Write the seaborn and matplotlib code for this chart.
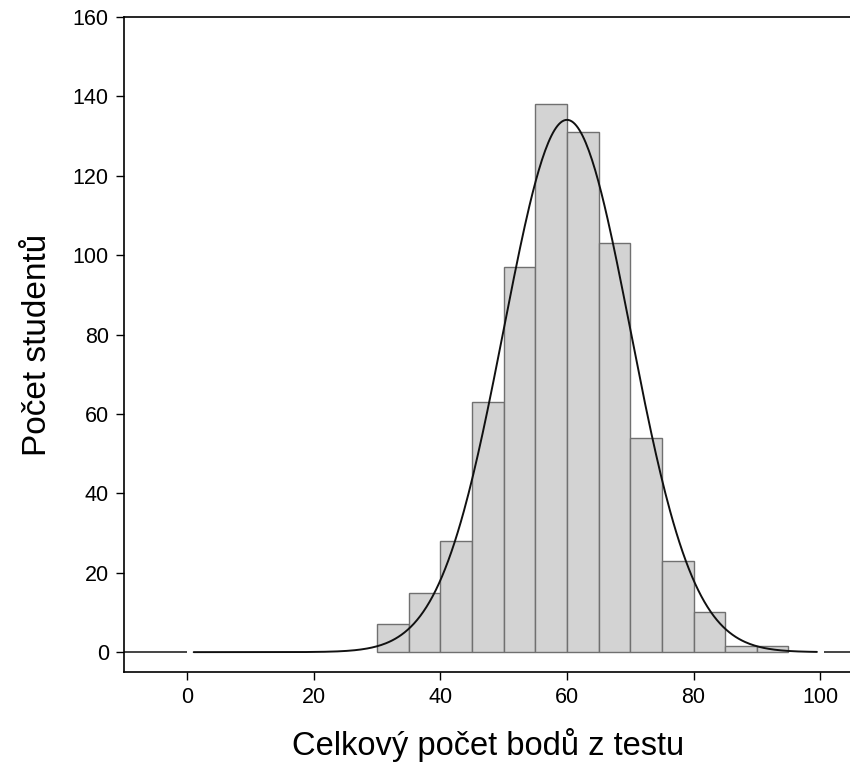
import numpy as np
import pandas as pd
import matplotlib
matplotlib.use("Agg")
import matplotlib.pyplot as plt
import seaborn as sns

# ---- data ----
bin_edges = [30, 35, 40, 45, 50, 55, 60, 65, 70, 75, 80, 85, 90, 95]
counts = [7, 15, 28, 63, 97, 138, 131, 103, 54, 23, 10, 1.6, 1.6]
curve_mean = 60.0
curve_sd = 10.0
x_ticks = [0, 20, 40, 60, 80, 100]
y_ticks = [0, 20, 40, 60, 80, 100, 120, 140, 160]
x_label = "Celkový počet bodů z testu"
y_label = "Počet studentů"

sns.set_theme(style="white")
plt.rcParams["font.family"] = ["Liberation Sans", "DejaVu Sans"]

fig = plt.figure(figsize=(8.5, 7.65), dpi=100)
ax = fig.add_axes([0.146, 0.1216, 0.856, 0.8562])

centers = [(a + b) / 2 for a, b in zip(bin_edges[:-1], bin_edges[1:])]
df = pd.DataFrame({"score": centers, "n": counts})
sns.histplot(data=df, x="score", weights="n", bins=bin_edges, ax=ax,
             color="#d3d3d3", edgecolor="#707070", linewidth=1.0, alpha=1.0)

# fitted normal curve scaled to counts
bw = bin_edges[1] - bin_edges[0]
total = sum(counts)
xs = np.linspace(1, 99.5, 400)
ys = total * bw / (curve_sd * np.sqrt(2 * np.pi)) * np.exp(-0.5 * ((xs - curve_mean) / curve_sd) ** 2)
sns.lineplot(x=xs, y=ys, ax=ax, color="#111111", linewidth=1.4)

xmin, xmax = -10, 105
ax.hlines(0, xmin, 0, color="#444444", linewidth=1.4)
ax.hlines(0, 100.6, xmax, color="#444444", linewidth=1.4)

ax.set_xlim(xmin, xmax)
ax.set_ylim(-5, 160)
ax.set_xticks(x_ticks)
ax.set_yticks(y_ticks)
ax.tick_params(direction="out", length=6, width=1.0, color="black",
               labelsize=15.5, bottom=True, left=True, pad=5, labelcolor="black")
for s in ["left", "bottom", "top"]:
    ax.spines[s].set_visible(True)
    ax.spines[s].set_color("black")
    ax.spines[s].set_linewidth(1.2)
ax.spines["right"].set_visible(False)
ax.set_xlabel(x_label, fontsize=23.5, labelpad=14, color="black")
ax.set_ylabel(y_label, fontsize=24, labelpad=14, color="black")
ax.grid(False)

fig.savefig("out.png", dpi=100)
